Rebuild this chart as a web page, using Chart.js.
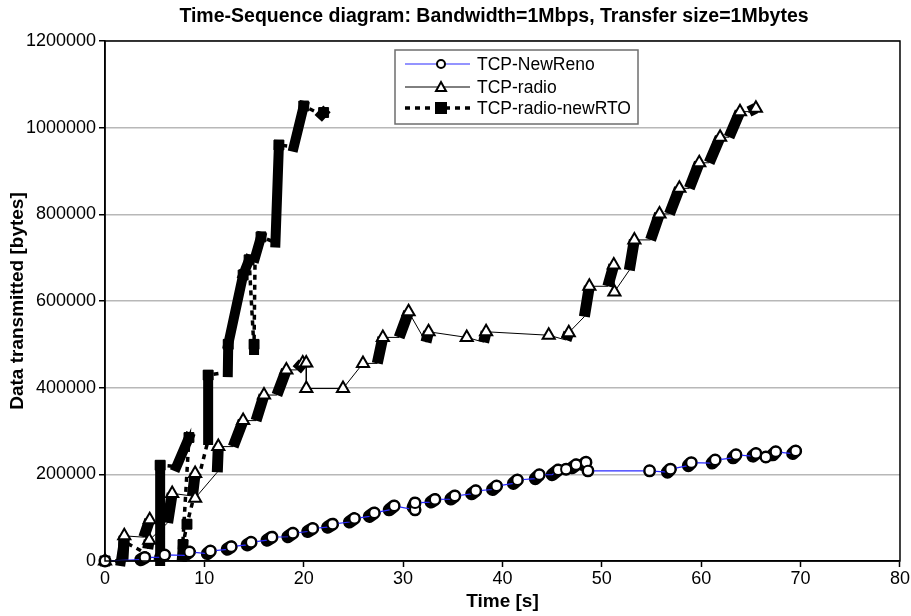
<!DOCTYPE html>
<html>
<head>
<meta charset="UTF-8">
<title>Time-Sequence diagram</title>
<script src="https://cdn.jsdelivr.net/npm/chart.js"></script>
<style>
  body { margin: 0; background: #fff; }
  #wrap { width: 911px; height: 616px; }
</style>
</head>
<body>
<div id="wrap"><canvas id="seqChart" width="911" height="616"></canvas></div>
<script>
// each series is a list of bursts: packets sent from (T0,Y0) up to (T1,Y1)
// a burst with T0==T1 and Y0==Y1 is a single point

// TCP-NewReno
const renoT0 = [0, 3.6, 5.6, 8.0, 10.3, 12.3, 14.3, 16.3, 18.4, 20.4, 22.4, 24.6, 26.6, 28.6, 31.2, 31.0, 32.8, 34.8, 36.9, 39.0, 41.1, 43.3, 45.0, 46.4, 47.0, 48.1, 48.6, 54.8, 56.6, 58.7, 61.1, 63.2, 65.2, 66.5, 67.2, 69.2];
const renoY0 = [0, 3000, 9000, 13000, 17000, 27000, 37000, 48000, 56000, 68000, 78000, 90000, 103000, 118000, 118000, 124000, 136000, 143000, 155000, 165000, 179000, 190000, 199000, 212000, 215000, 222000, 208000, 208000, 205000, 220000, 226000, 238000, 242000, 240000, 245000, 248000];
const renoT1 = [0, 4.0, 6.0, 8.5, 10.6, 12.7, 14.7, 16.8, 18.9, 20.9, 22.9, 25.1, 27.1, 29.1, 31.2, 31.2, 33.2, 35.2, 37.3, 39.4, 41.5, 43.7, 45.6, 46.4, 47.4, 48.4, 48.6, 54.8, 56.9, 59.0, 61.4, 63.5, 65.5, 66.5, 67.5, 69.5];
const renoY1 = [0, 8000, 14000, 21000, 23000, 33000, 43000, 55000, 64000, 75000, 85000, 98000, 111000, 127000, 118000, 134000, 142000, 150000, 162000, 173000, 187000, 199000, 210000, 212000, 222000, 228000, 208000, 208000, 212000, 227000, 233000, 245000, 248000, 240000, 252000, 254000];

// TCP-radio
const radioT0 = [0, 1.8, 3.9, 4.3, 6.3, 8.8, 9.07, 11.3, 12.9, 15.2, 17.3, 19.3, 20.25, 20.26, 23.95, 25.96, 27.4, 29.6, 32.3, 36.4, 38.1, 44.65, 46.4, 48.24, 50.6, 51.26, 52.76, 54.9, 56.8, 58.8, 60.8, 62.8, 64.8];
const radioY0 = [0, 0, 55000, 28000, 88000, 150000, 145000, 205000, 264000, 324000, 383000, 441000, 457000, 398000, 398000, 456000, 456000, 516000, 505000, 516000, 505000, 521000, 510000, 564000, 634000, 621000, 671000, 741000, 801000, 860000, 919000, 978000, 1037000];
const radioT1 = [0, 1.94, 4.5, 4.45, 6.76, 9.07, 9.07, 11.4, 13.9, 16.0, 18.25, 19.9, 20.25, 20.26, 23.95, 25.96, 27.96, 30.55, 32.56, 36.4, 38.35, 44.65, 46.67, 48.74, 51.2, 51.26, 53.27, 55.8, 57.8, 59.8, 61.9, 63.9, 65.5];
const radioY1 = [0, 58000, 95000, 48000, 156000, 202000, 145000, 264000, 324000, 383000, 441000, 457000, 457000, 398000, 398000, 456000, 516000, 575000, 529000, 516000, 529000, 521000, 527000, 634000, 683000, 621000, 741000, 801000, 860000, 919000, 978000, 1037000, 1045000];

// TCP-radio-newRTO
const rtoT0 = [0, 1.6, 5.55, 7.2, 7.75, 8.25, 10.38, 12.36, 12.4, 13.9, 15.0, 15.1, 17.15, 19.0, 21.8];
const rtoY0 = [0, 0, 0, 218000, 10000, 85000, 279000, 436000, 500000, 660000, 487000, 700000, 735000, 956000, 1030000];
const rtoT1 = [0, 1.9, 5.55, 8.45, 7.85, 8.25, 10.38, 12.4, 13.9, 14.5, 15.0, 15.7, 17.5, 20.0, 22.0];
const rtoY1 = [0, 45000, 221000, 285000, 38000, 85000, 429000, 500000, 660000, 695000, 500000, 748000, 960000, 1050000, 1035000];

const xTicks = [0, 10, 20, 30, 40, 50, 60, 70, 80];
const yTicks = [0, 200000, 400000, 600000, 800000, 1000000, 1200000];

const FONT = '"Liberation Sans", Arial, sans-serif';

function burstPath(t0, y0, t1, y1) {
    const pts = [];
    for (let i = 0; i < t0.length; i++) {
        pts.push({ x: t0[i], y: y0[i] }, { x: t1[i], y: y1[i] });
    }
    return pts;
}

// thick strokes standing for the overlapping markers of a burst
function burstBlobs(t0, y0, t1, y1) {
    const pts = [];
    for (let i = 0; i < t0.length; i++) {
        pts.push({ x: t0[i], y: y0[i] }, { x: t1[i], y: y1[i] }, { x: t1[i], y: null });
    }
    return pts;
}

const markOnTop = r => ctx => (ctx.dataIndex % 2 ? r : 0);

const series = [
    { label: 'TCP-NewReno', color: '#2a2aff', width: 1.2, dash: [], style: 'circle', fill: '#fff' },
    { label: 'TCP-radio', color: '#000', width: 1, dash: [], style: 'triangle', fill: '#fff' },
    { label: 'TCP-radio-newRTO', color: '#000', width: 3.5, dash: [5, 5], style: 'rect', fill: '#000' },
];

const frameAndLegend = {
    id: 'frameAndLegend',
    afterDraw(chart) {
        const { ctx, chartArea: a } = chart;
        ctx.save();
        // title
        ctx.fillStyle = '#000';
        ctx.font = 'bold 19.5px ' + FONT;
        ctx.textAlign = 'center';
        ctx.textBaseline = 'middle';
        ctx.fillText('Time-Sequence diagram: Bandwidth=1Mbps, Transfer size=1Mbytes', 494, 17);
        // plot frame
        ctx.strokeStyle = '#000';
        ctx.lineWidth = 1.5;
        ctx.strokeRect(a.left, a.top, a.right - a.left, a.bottom - a.top);
        // legend box
        const bx = 395, by = 50, bw = 243, bh = 74;
        ctx.fillStyle = '#fff';
        ctx.fillRect(bx, by, bw, bh);
        ctx.strokeStyle = '#6e6e6e';
        ctx.lineWidth = 1.5;
        ctx.strokeRect(bx, by, bw, bh);
        const rows = [64, 87, 108];
        series.forEach((s, i) => {
            const y = rows[i];
            ctx.strokeStyle = s.color;
            ctx.lineWidth = s.width;
            ctx.setLineDash(s.dash);
            ctx.beginPath();
            ctx.moveTo(405, y);
            ctx.lineTo(470, y);
            ctx.stroke();
            ctx.setLineDash([]);
            ctx.lineWidth = 2;
            ctx.strokeStyle = '#000';
            ctx.fillStyle = s.fill;
            ctx.beginPath();
            if (s.style === 'circle') ctx.arc(441, y, 4, 0, Math.PI * 2);
            else if (s.style === 'triangle') { ctx.moveTo(441, y - 5); ctx.lineTo(446, y + 4); ctx.lineTo(436, y + 4); ctx.closePath(); }
            else ctx.rect(436, y - 5, 10, 10);
            ctx.fill();
            ctx.stroke();
            ctx.fillStyle = '#000';
            ctx.font = '17.5px ' + FONT;
            ctx.textAlign = 'left';
            ctx.fillText(s.label, 477, y + 1);
        });
        ctx.restore();
    }
};

new Chart(document.getElementById('seqChart'), {
    type: 'scatter',
    data: {
        datasets: [
            // NewReno on top
            {
                label: 'TCP-NewReno', data: burstPath(renoT0, renoY0, renoT1, renoY1), showLine: true,
                borderColor: '#2a2aff', borderWidth: 1.2, pointStyle: 'circle', pointRadius: markOnTop(5),
                pointBackgroundColor: '#fff', pointBorderColor: '#000', pointBorderWidth: 2, order: 1, clip: false,
            },
            {
                label: 'reno-burst', data: burstBlobs(renoT0, renoY0, renoT1, renoY1), showLine: true, spanGaps: false,
                borderColor: '#000', borderWidth: 13, borderCapStyle: 'round', pointRadius: 0, order: 2, clip: false,
            },
            {
                label: 'TCP-radio', data: burstPath(radioT0, radioY0, radioT1, radioY1), showLine: true,
                borderColor: '#000', borderWidth: 1, pointStyle: 'triangle', pointRadius: markOnTop(7),
                pointBackgroundColor: '#fff', pointBorderColor: '#000', pointBorderWidth: 2, order: 3, clip: false,
            },
            {
                label: 'radio-burst', data: burstBlobs(radioT0, radioY0, radioT1, radioY1), showLine: true, spanGaps: false,
                borderColor: '#000', borderWidth: 11, borderCapStyle: 'butt', pointRadius: 0, order: 4, clip: false,
            },
            {
                label: 'TCP-radio-newRTO', data: burstPath(rtoT0, rtoY0, rtoT1, rtoY1), showLine: true,
                borderColor: '#000', borderWidth: 3.5, borderDash: [5, 5], pointStyle: 'rect', pointRadius: markOnTop(7),
                pointBackgroundColor: '#000', pointBorderColor: '#000', pointBorderWidth: 1, order: 5, clip: false,
            },
            {
                label: 'rto-burst', data: burstBlobs(rtoT0, rtoY0, rtoT1, rtoY1), showLine: true, spanGaps: false,
                borderColor: '#000', borderWidth: 10, borderCapStyle: 'square', pointRadius: 0, order: 6, clip: false,
            },
        ],
    },
    options: {
        responsive: false,
        animation: false,
        devicePixelRatio: 1,
        events: [],
        layout: { padding: { top: 41, right: 10, left: 0, bottom: 0 } },
        plugins: { legend: { display: false }, tooltip: { enabled: false } },
        scales: {
            x: {
                type: 'linear', min: 0, max: 80,
                afterBuildTicks: s => { s.ticks = xTicks.map(v => ({ value: v })); },
                afterFit: s => { s.height = 55; },
                ticks: { color: '#000', font: { family: FONT, size: 18 }, padding: 1, maxRotation: 0 },
                grid: { drawOnChartArea: false, tickLength: 6, tickColor: '#000', tickWidth: 1.5 },
                border: { color: '#000', width: 1.5 },
                title: { display: true, text: 'Time [s]', color: '#000', font: { family: FONT, size: 19, weight: 'bold' }, padding: { top: 0, bottom: 3 } },
            },
            y: {
                type: 'linear', min: 0, max: 1200000,
                afterBuildTicks: s => { s.ticks = yTicks.map(v => ({ value: v })); },
                afterFit: s => { s.width = 105; },
                ticks: { color: '#000', font: { family: FONT, size: 18 }, padding: 3, callback: v => String(v) },
                grid: { color: '#b8b8b8', lineWidth: 1.5, tickLength: 6, tickColor: '#000', tickWidth: 1.5 },
                border: { color: '#000', width: 1.5 },
                title: { display: true, text: 'Data transmitted [bytes]', color: '#000', font: { family: FONT, size: 19, weight: 'bold' }, padding: { top: 6, bottom: 0 } },
            },
        },
    },
    plugins: [frameAndLegend],
});
</script>
</body>
</html>
